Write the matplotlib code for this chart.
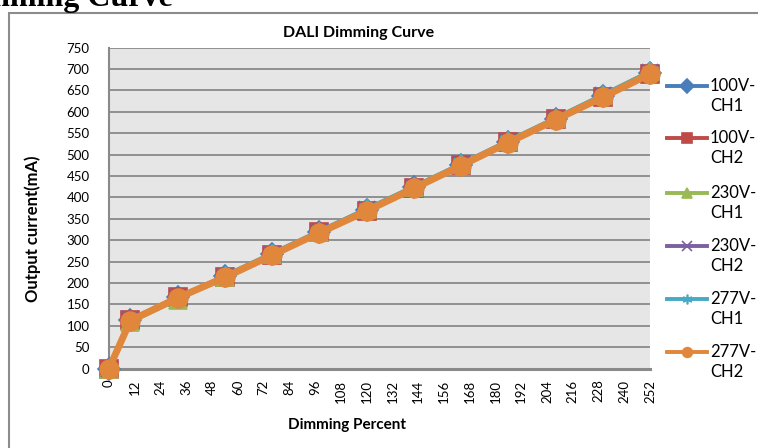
import matplotlib
matplotlib.use("Agg")
import matplotlib.pyplot as plt
from matplotlib.patches import Rectangle
from matplotlib.lines import Line2D

plt.rcParams['font.family'] = ['Lato', 'DejaVu Sans']

# ---- data ----
dim_level = [0, 10, 32, 54, 76, 98, 120, 142, 164, 186, 208, 230, 252]
v100_ch1 = [0, 113, 166, 215, 267, 319, 370, 423, 476, 530, 583, 636, 690]
v100_ch2 = [0, 114, 167, 214, 266, 318, 369, 422, 475, 529, 582, 635, 689]
v230_ch1 = [0, 108, 160, 214, 267, 320, 372, 425, 478, 532, 586, 640, 695]
v230_ch2 = [0, 115, 168, 216, 268, 320, 372, 424, 477, 531, 584, 638, 692]
v277_ch1 = [0, 110, 163, 218, 270, 322, 374, 426, 479, 533, 586, 640, 694]
v277_ch2 = [0, 112, 165, 213, 265, 317, 368, 421, 474, 528, 581, 634, 688]
series_top = ["100V-", "100V-", "230V-", "230V-", "277V-", "277V-"]
series_bottom = ["CH1", "CH2", "CH1", "CH2", "CH1", "CH2"]
x_ticks = list(range(0, 253, 12))
y_ticks = list(range(0, 751, 50))

W, H = 758, 448
fig = plt.figure(figsize=(W / 100, H / 100), dpi=100)

# outer chart border (cut off at right/bottom)
fig.patches.append(Rectangle((8.5 / W, -0.1), 1.1, 1 - 13 / H + 0.1, transform=fig.transFigure,
                             fill=False, edgecolor='#8c8c8c', linewidth=1.5))

# clipped heading (partially outside the image, as in the reference)
fig.text(-49 / W, 1 - 6 / H, "Dimming Curve", family='Liberation Serif', fontweight='bold',
         fontsize=23, va='baseline', ha='left')

left, right, top, bottom = 109, 650, 47.5, 368.5
ax = fig.add_axes([left / W, 1 - bottom / H, (right - left) / W, (bottom - top) / H])
ax.set_facecolor('#e6e6e6')

styles = [
    (v100_ch1, '#4a7ebb', 'D', 11, 2.6),
    (v100_ch2, '#be4b48', 's', 13, 2.6),
    (v230_ch1, '#98b954', '^', 13, 2.6),
    (v230_ch2, '#7d60a0', 'x', 12, 2.6),
    (v277_ch1, '#46aac5', (6, 2, 0), 13, 2.6),
    (v277_ch2, '#e0873c', 'o', 13.5, 5.0),
]
for (vals, col, mk, ms, lw) in styles:
    ax.plot(dim_level, vals, color=col, marker=mk, markersize=ms, linewidth=lw,
            markeredgecolor=col, markeredgewidth=1.2, clip_on=False, zorder=3)

ax.set_xlim(0, 252)
ax.set_ylim(0, 750)
ax.set_xticks(x_ticks)
ax.set_xticklabels([str(t) for t in x_ticks], rotation=90)
ax.set_yticks(y_ticks)
ax.tick_params(axis='both', length=0, labelsize=9.5, colors='black')
ax.tick_params(axis='x', pad=8)
ax.tick_params(axis='y', pad=14)
ax.grid(axis='y', color='#8a8a8a', linewidth=1.3)
ax.set_axisbelow(True)
for s in ['top', 'right']:
    ax.spines[s].set_visible(False)
ax.spines['left'].set_color('#8a8a8a')
ax.spines['left'].set_linewidth(1.5)
ax.spines['bottom'].set_color('#8a8a8a')
ax.spines['bottom'].set_linewidth(2.2)

fig.text(359 / W, 1 - 33 / H, "DALI Dimming Curve", fontweight='bold', fontsize=11.5,
         ha='center', va='center')
fig.text(33 / W, 1 - 229 / H, "Output current(mA)", fontweight='bold', fontsize=12,
         rotation=90, ha='center', va='center')
fig.text(347 / W, 1 - 425 / H, "Dimming Percent", fontweight='bold', fontsize=11,
         ha='center', va='center')

# legend drawn manually: marker line aligned with first text line
leg_y = [86, 138, 193, 246, 299, 352]
for (vals, col, mk, ms, lw), t1, t2, yy in zip(styles, series_top, series_bottom, leg_y):
    yf = 1 - yy / H
    fig.add_artist(Line2D([667 / W, 707 / W], [yf, yf], transform=fig.transFigure,
                          color=col, linewidth=2.8))
    fig.add_artist(Line2D([687 / W], [yf], transform=fig.transFigure, color=col,
                          marker=mk, markersize=7, markeredgecolor=col,
                          markeredgewidth=1.2, linestyle='none'))
    fig.text(710 / W, yf, t1, fontsize=12, ha='left', va='center')
    fig.text(710 / W, 1 - (yy + 20) / H, t2, fontsize=12, ha='left', va='center')

fig.savefig("out.png", dpi=100)
